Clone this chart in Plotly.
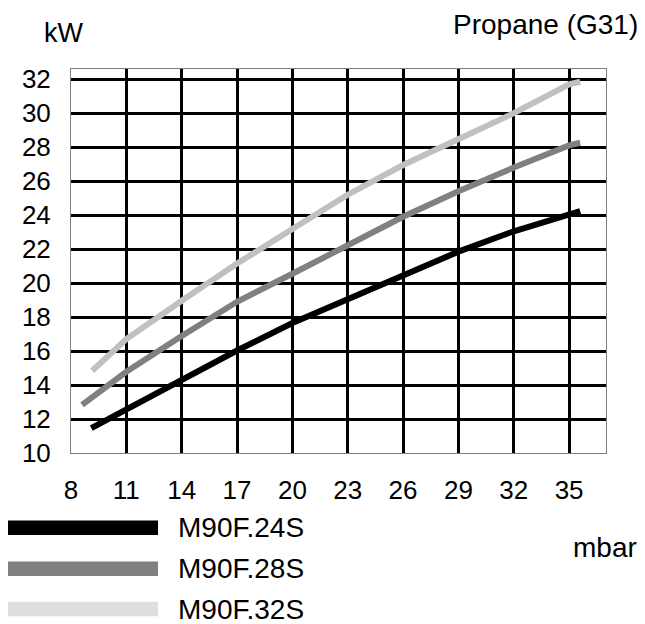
import plotly.graph_objects as go

# ---- data ----
series_names = ["M90F.24S", "M90F.28S", "M90F.32S"]
x_24s = [9.1, 11, 14, 17, 20, 23, 26, 29, 32, 35, 35.6]
y_24s = [11.46, 12.55, 14.25, 16.03, 17.65, 19.07, 20.43, 21.85, 23.05, 24.07, 24.23]
x_28s = [8.6, 11, 14, 17, 20, 23, 26, 29, 32, 35, 35.6]
y_28s = [12.83, 14.78, 16.88, 18.9, 20.55, 22.25, 23.9, 25.4, 26.8, 28.1, 28.26]
x_32s = [9.15, 11, 14, 17, 20, 23, 26, 29, 32, 35, 35.6]
y_32s = [14.84, 16.7, 18.96, 21.15, 23.18, 25.2, 26.95, 28.5, 30.0, 31.7, 31.85]
x_ticks = [8, 11, 14, 17, 20, 23, 26, 29, 32, 35]
y_ticks = [10, 12, 14, 16, 18, 20, 22, 24, 26, 28, 30, 32]

line_colors = ["#000000", "#808080", "#c0c0c0"]
swatch_colors = ["#000000", "#808080", "#dedede"]

# page geometry (the HTML body adds an 8px margin on top/left)
PAGE_W, PAGE_H, OFF = 645, 624, 8
PL, PR, PT, PB = 71, 606, 69, 453
FONT = "Liberation Sans, Arial, Helvetica, sans-serif"

def px(x):
    return (x - PL) / (PR - PL)

def py(y):
    return (PB - y) / (PB - PT)

fig = go.Figure()
for xs, ys, name, col in zip([x_24s, x_28s, x_32s], [y_24s, y_28s, y_32s],
                             series_names, line_colors):
    fig.add_trace(go.Scatter(x=xs, y=ys, mode="lines", name=name,
                             line=dict(color=col, width=6), showlegend=False))

fig.update_layout(
    width=PAGE_W - OFF, height=PAGE_H - OFF,
    margin=dict(l=PL - OFF, r=PAGE_W - PR, t=PT - OFF, b=PAGE_H - PB, autoexpand=False),
    paper_bgcolor="white", plot_bgcolor="white",
    font=dict(family=FONT, size=26, color="black"),
    xaxis=dict(range=[8, 37], tickvals=x_ticks, showgrid=True,
               gridcolor="black", gridwidth=3, zeroline=False,
               showline=True, linecolor="#808080", linewidth=1, mirror=True,
               ticks="", ticklabelstandoff=14,
               tickfont=dict(size=26, family=FONT, color="black")),
    yaxis=dict(range=[10, 32.6], tickvals=y_ticks, showgrid=True,
               gridcolor="black", gridwidth=3, zeroline=False,
               showline=True, linecolor="#808080", linewidth=1, mirror=True,
               ticks="", ticklabelstandoff=14,
               tickfont=dict(size=26, family=FONT, color="black")),
)

annots = [
    dict(text="kW", x=px(63.5), y=py(33), xanchor="center", yanchor="middle", size=27),
    dict(text="Propane (G31)", x=px(639.5), y=py(24), xanchor="right", yanchor="middle", size=28),
    dict(text="mbar", x=px(638.5), y=py(547), xanchor="right", yanchor="middle", size=28),
]
legend_y = [527.7, 568.8, 609]
for name, col, yy in zip(series_names, swatch_colors, legend_y):
    fig.add_shape(type="rect", xref="paper", yref="paper",
                  x0=px(6), x1=px(158), y0=py(yy - 7.3), y1=py(yy + 7.3),
                  fillcolor=col, line=dict(width=0), layer="above")
    annots.append(dict(text=name, x=px(176), y=py(yy), xanchor="left", yanchor="middle", size=28))

for a in annots:
    size = a.pop("size")
    fig.add_annotation(xref="paper", yref="paper", showarrow=False,
                       font=dict(size=size, family=FONT, color="black"), **a)

fig.write_html("out.html")
